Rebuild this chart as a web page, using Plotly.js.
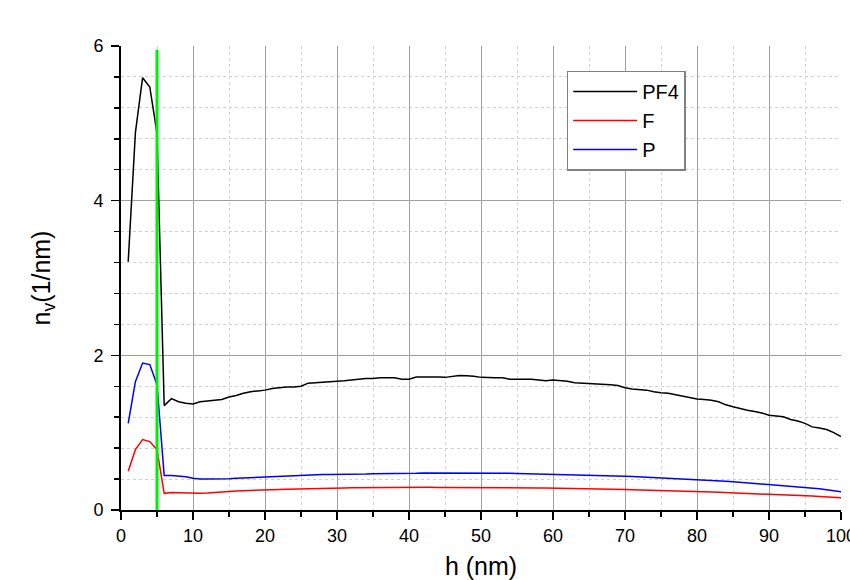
<!DOCTYPE html>
<html>
<head>
<meta charset="utf-8">
<script src="https://cdn.plot.ly/plotly-3.0.1.min.js"></script>
<style>html,body{margin:0;padding:0;background:#fff;}#chart{width:850px;height:580px;}</style>
</head>
<body>
<div id="chart"></div>
<script>
const h = [1,2,3,4,5,6,7,8,9,10,11,12,13,14,15,16,17,18,19,20,21,22,23,24,25,26,27,28,29,30,31,32,33,34,35,36,37,38,39,40,41,42,43,44,45,46,47,48,49,50,51,52,53,54,55,56,57,58,59,60,61,62,63,64,65,66,67,68,69,70,71,72,73,74,75,76,77,78,79,80,81,82,83,84,85,86,87,88,89,90,91,92,93,94,95,96,97,98,99,100];

const PF4 = [3.21,4.88,5.59,5.47,4.87,1.35,1.44,1.40,1.38,1.37,
  1.40,1.41,1.42,1.43,1.46,1.48,1.51,1.53,1.54,1.55,
  1.57,1.58,1.59,1.59,1.60,1.64,1.645,1.65,1.655,1.66,
  1.67,1.68,1.69,1.70,1.70,1.71,1.71,1.71,1.69,1.69,
  1.72,1.72,1.725,1.72,1.715,1.73,1.74,1.735,1.73,1.715,
  1.71,1.71,1.71,1.69,1.69,1.69,1.69,1.68,1.67,1.68,
  1.67,1.665,1.645,1.64,1.64,1.635,1.63,1.62,1.61,1.58,
  1.565,1.56,1.55,1.53,1.515,1.51,1.49,1.47,1.45,1.435,
  1.43,1.42,1.40,1.36,1.335,1.31,1.29,1.275,1.255,1.225,
  1.215,1.205,1.17,1.15,1.12,1.075,1.06,1.04,1.00,0.95];

const F = [0.50,0.78,0.91,0.885,0.78,0.215,0.225,0.222,0.218,0.216,
  0.216,0.22,0.228,0.235,0.24,0.245,0.25,0.255,0.258,0.262,
  0.265,0.266,0.267,0.268,0.27,0.275,0.278,0.28,0.282,0.284,
  0.285,0.287,0.288,0.29,0.293,0.293,0.292,0.29,0.29,0.29,
  0.292,0.293,0.293,0.292,0.292,0.293,0.294,0.294,0.294,0.293,
  0.293,0.29,0.29,0.29,0.289,0.288,0.287,0.285,0.284,0.283,
  0.282,0.281,0.28,0.278,0.277,0.275,0.273,0.27,0.268,0.265,
  0.262,0.26,0.258,0.255,0.252,0.25,0.247,0.244,0.241,0.238,
  0.235,0.232,0.228,0.225,0.222,0.218,0.213,0.209,0.205,0.203,
  0.2,0.197,0.193,0.19,0.185,0.18,0.175,0.17,0.165,0.16];

const P = [1.12,1.66,1.90,1.88,1.62,0.445,0.445,0.44,0.43,0.41,
  0.40,0.40,0.40,0.40,0.405,0.41,0.415,0.42,0.425,0.43,
  0.435,0.44,0.445,0.445,0.45,0.455,0.455,0.46,0.46,0.46,
  0.46,0.465,0.465,0.465,0.47,0.47,0.47,0.475,0.475,0.475,
  0.475,0.48,0.48,0.48,0.483,0.483,0.483,0.483,0.483,0.483,
  0.48,0.48,0.476,0.474,0.472,0.47,0.468,0.466,0.465,0.464,
  0.46,0.455,0.453,0.45,0.448,0.445,0.443,0.44,0.44,0.437,
  0.432,0.428,0.424,0.42,0.415,0.41,0.405,0.40,0.397,0.393,
  0.388,0.383,0.378,0.372,0.365,0.358,0.35,0.343,0.337,0.333,
  0.325,0.318,0.31,0.303,0.295,0.285,0.275,0.262,0.25,0.237];

const markerX = [5,5];
const markerY = [0,5.95];

const seriesNames = ['PF4','F','P'];
const seriesColors = ['#000000','#ff0000','#0000ff'];

const traces = [
  {x:h, y:PF4, name:seriesNames[0], mode:'lines', line:{color:seriesColors[0], width:1.5}},
  {x:h, y:F, name:seriesNames[1], mode:'lines', line:{color:seriesColors[1], width:1.5}},
  {x:h, y:P, name:seriesNames[2], mode:'lines', line:{color:seriesColors[2], width:1.5}},
  {x:markerX, y:markerY, mode:'lines', showlegend:false, hoverinfo:'skip', line:{color:'#00ee00', width:3}}
];

const font = 'Liberation Sans, Arial, sans-serif';
const layout = {
  width:850, height:580,
  margin:{l:121, r:9, t:46, b:70},
  paper_bgcolor:'#fff', plot_bgcolor:'#fff',
  font:{family:font, color:'#000', size:18},
  showlegend:true,
  legend:{x:0.619, y:0.947, xanchor:'left', yanchor:'top', bgcolor:'#fff', bordercolor:'#808080', borderwidth:1.5,
    font:{family:font, size:20, color:'#000'}, itemwidth:64, tracegroupgap:0},
  xaxis:{range:[0,100], tickmode:'linear', tick0:0, dtick:10, ticks:'outside', ticklen:8, tickwidth:1.5, tickcolor:'#000',
    showline:true, linecolor:'#000', linewidth:2, zeroline:false, ticklabeloverflow:'allow',
    showgrid:true, gridcolor:'#a0a0a0', gridwidth:1,
    minor:{dtick:5, ticks:'outside', ticklen:5, tickwidth:1.5, tickcolor:'#000', showgrid:true, gridcolor:'#d0d0d0', griddash:'dot', gridwidth:1},
    tickfont:{family:font, size:18, color:'#000'},
    title:{text:'h (nm)', font:{family:font, size:25, color:'#000'}, standoff:23}},
  yaxis:{range:[0,6], tickmode:'linear', tick0:0, dtick:2, ticks:'outside', ticklen:8, tickwidth:1.5, tickcolor:'#000',
    showline:true, linecolor:'#000', linewidth:2, zeroline:false, ticklabelstandoff:4,
    showgrid:true, gridcolor:'#a0a0a0', gridwidth:1,
    minor:{dtick:0.4, ticks:'outside', ticklen:5, tickwidth:1.5, tickcolor:'#000', showgrid:true, gridcolor:'#d0d0d0', griddash:'dot', gridwidth:1},
    tickfont:{family:font, size:18, color:'#000'},
    title:{text:'n<sub>v</sub>(1/nm)', font:{family:font, size:25, color:'#000'}, standoff:36}}
};

Plotly.newPlot('chart', traces, layout, {staticPlot:true, displayModeBar:false});
</script>
</body>
</html>
